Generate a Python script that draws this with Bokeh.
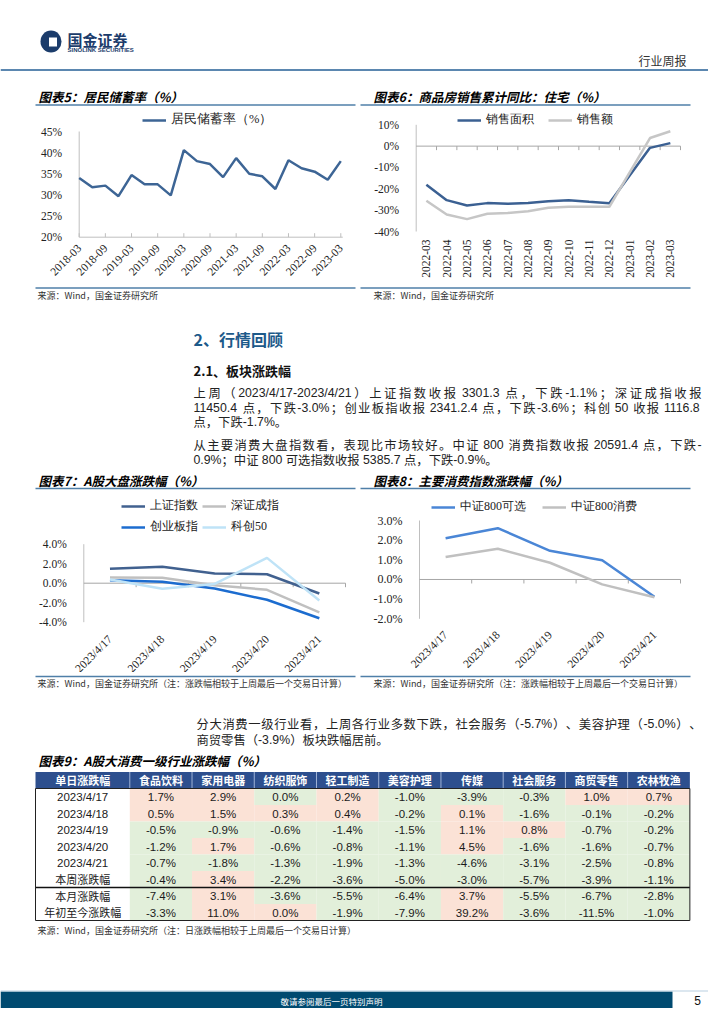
import math
from bokeh.plotting import figure
from bokeh.models import (Range1d, Legend, LegendItem, FixedTicker, PrintfTickFormatter)
from bokeh.layouts import column, row
from bokeh.embed import file_html
from bokeh.resources import INLINE
from bokeh.core.properties import value

# ------------------------------------------------------------------ data
sav_quarters = ["2018-03", "2018-06", "2018-09", "2018-12", "2019-03", "2019-06", "2019-09",
                "2019-12", "2020-03", "2020-06", "2020-09", "2020-12", "2021-03", "2021-06",
                "2021-09", "2021-12", "2022-03", "2022-06", "2022-09", "2022-12", "2023-03"]
sav_rate = [34.0, 31.8, 32.2, 29.7, 34.7, 32.5, 32.5, 29.9, 40.6, 38.0, 37.3,
            34.2, 38.7, 35.0, 34.4, 31.4, 38.2, 36.3, 35.5, 33.6, 38.0]

house_months = ["2022-03", "2022-04", "2022-05", "2022-06", "2022-07", "2022-08", "2022-09",
                "2022-10", "2022-11", "2022-12", "2023-01", "2023-02", "2023-03"]
house_area = [-18.1, -25.3, -27.8, -26.7, -27.0, -26.7, -25.8, -25.3, -26.1, -26.8, None, -0.8, 1.4]
house_amount = [-25.6, -32.0, -34.2, -31.7, -31.3, -30.5, -28.9, -28.4, -28.4, -28.4, None, 3.8, 7.0]

idx_dates = ["2023/4/17", "2023/4/18", "2023/4/19", "2023/4/20", "2023/4/21"]
sh_index = [1.47, 1.68, 0.99, 0.92, -1.06]
sz_index = [0.58, 0.55, -0.20, -0.68, -3.00]
cyb_index = [0.31, 0.14, -0.55, -1.70, -3.60]
kc50_index = [0.38, -0.58, -0.07, 2.60, -1.78]

csi800_disc = [2.10, 2.61, 1.46, 0.98, -0.88]
csi800_cons = [1.14, 1.56, 0.85, -0.25, -0.90]

ind_names = ["食品饮料", "家用电器", "纺织服饰", "轻工制造", "美容护理", "传媒", "社会服务", "商贸零售", "农林牧渔"]
row_labels = ["2023/4/17", "2023/4/18", "2023/4/19", "2023/4/20", "2023/4/21", "本周涨跌幅", "本月涨跌幅", "年初至今涨跌幅"]
ret_0417 = [1.7, 2.9, -0.0, 0.2, -1.0, -3.9, -0.3, 1.0, 0.7]
ret_0418 = [0.5, 1.5, 0.3, 0.4, -0.2, 0.1, -1.6, -0.1, -0.2]
ret_0419 = [-0.5, -0.9, -0.6, -1.4, -1.5, 1.1, 0.8, -0.7, -0.2]
ret_0420 = [-1.2, 1.7, -0.6, -0.8, -1.1, 4.5, -1.6, -1.6, -0.7]
ret_0421 = [-0.7, -1.8, -1.3, -1.9, -1.3, -4.6, -3.1, -2.5, -0.8]
ret_week = [-0.4, 3.4, -2.2, -3.6, -5.0, -3.0, -5.7, -3.9, -1.1]
ret_month = [-7.4, 3.1, -3.6, -5.5, -6.4, 3.7, -5.5, -6.7, -2.8]
ret_ytd = [-3.3, 11.0, 0.0, -1.9, -7.9, 39.2, -3.6, -11.5, -1.0]
table_rows = [ret_0417, ret_0418, ret_0419, ret_0420, ret_0421, ret_week, ret_month, ret_ytd]

# ------------------------------------------------------------------ style
CJK = "Noto Sans CJK SC"
SERIF = "Liberation Serif"
SANS = "Liberation Sans"
RULE = "#4f7fa8"
AX = "#bfbfbf"
ZERO = "#a6a6a6"

C_SAV = "#3d6595"
C_AREA = "#3b6092"
C_AMT = "#c6c6c6"
C_SH = "#41618f"
C_SZ = "#c0c0c0"
C_CYB = "#1c6ccf"
C_KC = "#bfe3f7"
C_DISC = "#4a86d6"
C_CONS = "#c0c0c0"


def decor(h):
    f = figure(width=708, height=h, x_range=Range1d(0, 708), y_range=Range1d(h, 0),
               output_backend="svg", toolbar_location=None,
               x_axis_location=None, y_axis_location=None,
               min_border_left=0, min_border_right=0, min_border_top=0, min_border_bottom=0)
    f.grid.visible = False
    f.outline_line_color = None
    return f


def txt(f, x, y, s, size, font=CJK, color="#000000", style="normal", align="left"):
    f.text(x=[x], y=[y], text=[s], text_font=value(font), text_font_size=f"{size}px",
           text_color=color, text_font_style=style, text_align=align, text_baseline="middle")


def hline(f, x0, x1, y, color=RULE, w=1.5):
    f.segment(x0=[x0], y0=[y], x1=[x1], y1=[y], line_color=color, line_width=w)


def char_w(ch):
    if ord(ch) >= 0x2E80:
        return 1.0
    if ch.isdigit():
        return 0.556
    if ch in "il":
        return 0.222
    if ch in ".,/ :;":
        return 0.278
    if ch == "-":
        return 0.333
    if ch == "%":
        return 0.889
    if ch == "W":
        return 0.944
    if ch.isupper():
        return 0.667
    return 0.556


def para(f, x0, y, s, size, target=None, color="#222222"):
    toks = []
    pos = 0.0
    cur = None
    for ch in s:
        w = char_w(ch)
        if ord(ch) >= 0x2E80:
            toks.append([ch, True, pos])
            cur = None
        elif ch == " ":
            cur = None
        else:
            if cur is None:
                cur = [ch, False, pos]
                toks.append(cur)
            else:
                cur[0] += ch
        pos += w
    n = len(toks)
    extra = 0.0
    if target is not None and n > 1:
        extra = (target - pos * size) / (n - 1)
    cx, cy, ct, lx, ly, lt = [], [], [], [], [], []
    for i, (t, cjk, st) in enumerate(toks):
        xx = x0 + st * size + i * extra
        if cjk:
            cx.append(xx); cy.append(y); ct.append(t)
        else:
            lx.append(xx); ly.append(y); lt.append(t)
    if ct:
        f.text(x=cx, y=cy, text=ct, text_font=value(CJK), text_font_size=f"{size}px",
               text_color=color, text_baseline="middle", text_align="left")
    if lt:
        f.text(x=lx, y=ly, text=lt, text_font=value(SANS), text_font_size=f"{size}px",
               text_color=color, text_baseline="middle", text_align="left")


def chart(width, height, fig_left, fig_top, xmin, xmax, ref_xmin, ref_xmax,
          ymin, ymax, ref_top, ref_bot, ysize, yticks, yfmt):
    """The frame fills the whole figure; data x=xmin sits at page-x ref_xmin, etc."""
    ppx = (ref_xmax - ref_xmin) / (xmax - xmin)
    x0 = xmin - (ref_xmin - fig_left) / ppx
    x1 = xmax + (fig_left + width - ref_xmax) / ppx
    ppu = (ref_bot - ref_top) / (ymax - ymin)
    y0 = ymin - (fig_top + height - ref_bot) / ppu
    y1 = ymax + (ref_top - fig_top) / ppu
    p = figure(width=width, height=height, x_range=Range1d(x0, x1), y_range=Range1d(y0, y1),
               output_backend="svg", toolbar_location=None, x_axis_location=None,
               min_border_left=0, min_border_right=0, min_border_top=0, min_border_bottom=0)
    p.grid.visible = False
    p.outline_line_color = None
    ya = p.yaxis[0]
    ya.fixed_location = xmin
    ya.ticker = FixedTicker(ticks=yticks)
    ya.formatter = PrintfTickFormatter(format=yfmt)
    ya.axis_line_color = None
    ya.major_tick_line_color = None
    ya.minor_tick_line_color = None
    ya.major_label_standoff = 11
    ya.major_label_text_font = SERIF
    ya.major_label_text_font_size = f"{ysize}px"
    ya.major_label_text_color = "#222222"
    p.segment(x0=[xmin], y0=[ymin], x1=[xmin], y1=[ymax], line_color=AX, line_width=1)
    return p, ppu


def xlabels(p, xs, ys, labels, angle, size):
    p.text(x=xs, y=ys, text=labels, angle=angle, text_align="right", text_baseline="middle",
           text_font=value(SERIF), text_font_size=f"{size}px", text_color="#222222")


def make_legend(items, loc, ncols=None, spacing=14, size=12):
    kw = dict(items=items, orientation="horizontal", location=loc,
              border_line_color=None, background_fill_alpha=0, padding=0, margin=0,
              glyph_width=24, glyph_height=16, label_height=16, label_standoff=5, spacing=spacing,
              label_text_font=SERIF, label_text_font_size=f"{size}px", label_text_color="#222222",
              label_text_baseline="middle")
    if ncols:
        kw["ncols"] = ncols
    return Legend(**kw)


# ------------------------------------------------------------------ top decor (page y 0..110)
top = decor(110)
top.ellipse(x=[50.5], y=[41], width=21, height=22, fill_color="#1b3c6b", line_color=None)
top.rect(x=[52.5], y=[41.5], width=8, height=9, fill_color="white", line_color=None)
txt(top, 67, 39, "国金证券", 15, color="#1b3c6b", style="bold")
txt(top, 67, 49.5, "SINOLINK SECURITIES", 6, font=SANS, color="#1b3c6b", style="bold")
txt(top, 638, 60, "行业周报", 12, color="#333333")
hline(top, 0, 708, 69.5, color="#5b87b0", w=2)
txt(top, 38, 96, "图表5：居民储蓄率（%）", 12.5, style="bold italic")
txt(top, 373, 96, "图表6：商品房销售累计同比：住宅（%）", 12.5, style="bold italic")
hline(top, 35, 355, 104.5)
hline(top, 360, 690, 104.5)

# ------------------------------------------------------------------ chart 5 (page x 0..356, y 110..284)
nq = len(sav_rate)
c5, k5 = chart(356, 174, 0, 110, 0, nq - 1, 78.7, 340.3, 20, 45, 131, 236.7, 11.5,
               [20, 25, 30, 35, 40, 45], "%d%%")
qi = list(range(nq))
r5 = c5.line(qi, sav_rate, line_color=C_SAV, line_width=2.5)
even = qi[::2]
c5.segment(x0=[0], y0=[20], x1=[nq - 0.85], y1=[20], line_color=AX, line_width=1)
c5.segment(x0=even, y0=[20] * len(even), x1=even, y1=[20 + 4 / k5] * len(even), line_color=AX, line_width=1)
xlabels(c5, even, [20 - 9 / k5] * len(even), sav_quarters[::2], math.pi / 4, 11.5)
c5.add_layout(make_legend([LegendItem(label="居民储蓄率（%）", renderers=[r5])], (142, 156), size=12.5))

# ------------------------------------------------------------------ chart 6 (page x 356..708)
nb = len(house_months)
c6, k6 = chart(352, 174, 356, 110, 0, nb, 415.7, 680, -40, 10, 124.3, 231, 11.5,
               [-40, -30, -20, -10, 0, 10], "%d%%")
mx = [i + 0.5 for i in range(nb)]
ax6 = [x for x, v in zip(mx, house_area) if v is not None]
ay6 = [v for v in house_area if v is not None]
bx6 = [x for x, v in zip(mx, house_amount) if v is not None]
by6 = [v for v in house_amount if v is not None]
c6.segment(x0=[0], y0=[0], x1=[nb], y1=[0], line_color=ZERO, line_width=1)
c6.segment(x0=list(range(1, nb + 1)), y0=[0] * nb, x1=list(range(1, nb + 1)), y1=[-4 / k6] * nb,
           line_color=ZERO, line_width=1)
r6a = c6.line(ax6, ay6, line_color=C_AREA, line_width=2.5)
r6b = c6.line(bx6, by6, line_color=C_AMT, line_width=2.5)
xlabels(c6, mx, [-40 - 8 / k6] * nb, house_months, math.pi / 2, 11.5)
c6.add_layout(make_legend([LegendItem(label="销售面积", renderers=[r6a]),
                           LegendItem(label="销售额", renderers=[r6b])], (101, 156), spacing=14))

# ------------------------------------------------------------------ mid decor (page y 284..490)
mid = decor(206)
hline(mid, 35, 355, 3.5)
hline(mid, 360, 690, 3.5)
txt(mid, 37, 10.5, "来源：Wind，国金证券研究所", 9, color="#333333")
txt(mid, 373, 10.5, "来源：Wind，国金证券研究所", 9, color="#333333")
txt(mid, 193, 54, "2、行情回顾", 16, color="#1d5a8a", style="bold")
txt(mid, 193, 86, "2.1、板块涨跌幅", 13, color="#111111", style="bold")
para(mid, 193, 108, "上周（2023/4/17-2023/4/21）上证指数收报 3301.3 点，下跌-1.1%；深证成指收报", 12.3, target=508)
para(mid, 193, 123, "11450.4 点，下跌-3.0%；创业板指收报 2341.2.4 点，下跌-3.6%；科创 50 收报 1116.8", 12.3, target=508)
para(mid, 193, 137.5, "点，下跌-1.7%。", 12.3)
para(mid, 193, 160, "从主要消费大盘指数看，表现比市场较好。中证 800 消费指数收报 20591.4 点，下跌-", 12.3, target=508)
para(mid, 193, 175, "0.9%；中证 800 可选指数收报 5385.7 点，下跌-0.9%。", 12.3)
txt(mid, 38, 196, "图表7：A股大盘涨跌幅（%）", 12.5, style="bold italic")
txt(mid, 373, 196, "图表8：主要消费指数涨跌幅（%）", 12.5, style="bold italic")
hline(mid, 35, 355, 204)
hline(mid, 360, 690, 204)

# ------------------------------------------------------------------ chart 7 (page x 0..356, y 490..672)
nd = len(idx_dates)
dx = [i + 0.5 for i in range(nd)]
c7, k7 = chart(356, 182, 0, 490, 0, nd, 83.3, 345, -4, 4, 543.7, 621.7, 11.5,
               [-4, -2, 0, 2, 4], "%.1f%%")
c7.segment(x0=[0], y0=[0], x1=[nd], y1=[0], line_color=ZERO, line_width=1)
c7.segment(x0=list(range(1, nd + 1)), y0=[0] * nd, x1=list(range(1, nd + 1)), y1=[-4 / k7] * nd,
           line_color=ZERO, line_width=1)
r7a = c7.line(dx, sh_index, line_color=C_SH, line_width=2.5)
r7b = c7.line(dx, sz_index, line_color=C_SZ, line_width=2.5)
r7c = c7.line(dx, cyb_index, line_color=C_CYB, line_width=2.5)
r7d = c7.line(dx, kc50_index, line_color=C_KC, line_width=2.5)
xlabels(c7, dx, [-4 - 15 / k7] * nd, idx_dates, math.pi / 4, 11.5)
c7.add_layout(make_legend([LegendItem(label="上证指数", renderers=[r7a]),
                           LegendItem(label="深证成指", renderers=[r7b]),
                           LegendItem(label="创业板指", renderers=[r7c]),
                           LegendItem(label="科创50", renderers=[r7d])], (121, 137), ncols=2, spacing=4))

# ------------------------------------------------------------------ chart 8 (page x 356..708)
c8, k8 = chart(352, 182, 356, 490, 0, nd, 419, 680, -2, 3, 520, 618.3, 12,
               [-2, -1, 0, 1, 2, 3], "%.1f%%")
c8.segment(x0=[0], y0=[0], x1=[nd], y1=[0], line_color=ZERO, line_width=1)
c8.segment(x0=list(range(1, nd + 1)), y0=[0] * nd, x1=list(range(1, nd + 1)), y1=[-4 / k8] * nd,
           line_color=ZERO, line_width=1)
r8a = c8.line(dx, csi800_disc, line_color=C_DISC, line_width=2.5)
r8b = c8.line(dx, csi800_cons, line_color=C_CONS, line_width=2.5)
xlabels(c8, dx, [-2 - 14 / k8] * nd, idx_dates, math.pi / 4, 11.5)
c8.add_layout(make_legend([LegendItem(label="中证800可选", renderers=[r8a]),
                           LegendItem(label="中证800消费", renderers=[r8b])], (75, 157), spacing=16))

# ------------------------------------------------------------------ bottom decor (page y 672..1008)
bot = decor(336)
hline(bot, 35, 355, 4)
hline(bot, 360, 690, 4)
src7 = "来源：Wind，国金证券研究所（注：涨跌幅相较于上周最后一个交易日计算）"
txt(bot, 37, 10.5, src7, 9, color="#333333")
txt(bot, 373, 10.5, src7, 9, color="#333333")
para(bot, 196, 51, "分大消费一级行业看，上周各行业多数下跌，社会服务（-5.7%）、美容护理（-5.0%）、", 12.3, target=505)
para(bot, 196, 67, "商贸零售（-3.9%）板块跌幅居前。", 12.3)
txt(bot, 38, 88, "图表9：A股大消费一级行业涨跌幅（%）", 12.5, style="bold italic")

# table geometry
tx0 = 35.0
first_w = 94.3
col_w = 62.23
head_top = 99.5
head_bot = 116.0
row_h = 16.5
ncol = len(ind_names)
col_left = [tx0 + first_w + i * col_w for i in range(ncol)]
tx1 = tx0 + first_w + ncol * col_w
row_top = [head_bot + i * row_h for i in range(len(row_labels))]
tbl_bot = row_top[-1] + row_h

# header
bot.quad(left=[tx0], right=[tx1], top=[head_top], bottom=[head_bot], fill_color="#2d4f8e", line_color=None)
bot.segment(x0=col_left, y0=[head_top] * ncol, x1=col_left, y1=[head_bot] * ncol,
            line_color="#9fb3d6", line_width=1)
txt(bot, tx0 + first_w / 2, (head_top + head_bot) / 2, "单日涨跌幅", 11, color="white", style="bold", align="center")
bot.text(x=[l + col_w / 2 for l in col_left], y=[(head_top + head_bot) / 2] * ncol, text=ind_names,
         text_font=value(CJK), text_font_size="11px", text_color="white", text_font_style="bold",
         text_align="center", text_baseline="middle")

# cells
cl, cr, ct, cb, cc = [], [], [], [], []
vx, vy, vt = [], [], []
for ri, vals in enumerate(table_rows):
    for ci, v in enumerate(vals):
        pos = math.copysign(1.0, v) > 0
        cl.append(col_left[ci]); cr.append(col_left[ci] + col_w)
        ct.append(row_top[ri]); cb.append(row_top[ri] + row_h)
        cc.append("#fbe2d6" if pos else "#e2efda")
        vx.append(col_left[ci] + col_w / 2)
        vy.append(row_top[ri] + row_h / 2 + 0.5)
        vt.append(f"{abs(v):.1f}%" if v == 0 else f"{v:.1f}%")
bot.quad(left=cl, right=cr, top=ct, bottom=cb, fill_color=cc, line_color=None)
bot.text(x=vx, y=vy, text=vt, text_font=value(SANS), text_font_size="11.5px", text_color="#1a1a1a",
         text_align="center", text_baseline="middle")
date_rows = [i for i, s in enumerate(row_labels) if s[0].isdigit()]
name_rows = [i for i, s in enumerate(row_labels) if not s[0].isdigit()]
bot.text(x=[tx0 + first_w / 2] * len(date_rows), y=[row_top[i] + row_h / 2 + 0.5 for i in date_rows],
         text=[row_labels[i] for i in date_rows], text_font=value(SANS), text_font_size="11.5px",
         text_color="#1a1a1a", text_align="center", text_baseline="middle")
bot.text(x=[tx0 + first_w / 2] * len(name_rows), y=[row_top[i] + row_h / 2 for i in name_rows],
         text=[row_labels[i] for i in name_rows], text_font=value(CJK), text_font_size="11px",
         text_color="#1a1a1a", text_align="center", text_baseline="middle")
# borders
hline(bot, tx0, tx1, head_bot, color="#222222", w=1)
hline(bot, tx0, tx1, row_top[6], color="#111111", w=1.6)
hline(bot, tx0, tx1, tbl_bot, color="#222222", w=1)
bot.segment(x0=[tx0, tx1], y0=[head_bot, head_bot], x1=[tx0, tx1], y1=[tbl_bot, tbl_bot],
            line_color="#222222", line_width=1)

txt(bot, 37, 258, "来源：Wind，国金证券研究所（注：日涨跌幅相较于上周最后一个交易日计算）", 9, color="#333333")

# footer
bot.quad(left=[0], right=[672], top=[319], bottom=[336], fill_color="#004a70", line_color=None)
hline(bot, 0, 708, 318.5, color="#b9cfe0", w=1)
txt(bot, 331, 328, "敬请参阅最后一页特别声明", 8.5, color="white", align="center")
txt(bot, 697, 327.5, "5", 12, font=SANS, color="#111111", align="center")

layout = column(top, row(c5, c6), mid, row(c7, c8), bot)
open("out.html", "w").write(file_html(layout, INLINE))
